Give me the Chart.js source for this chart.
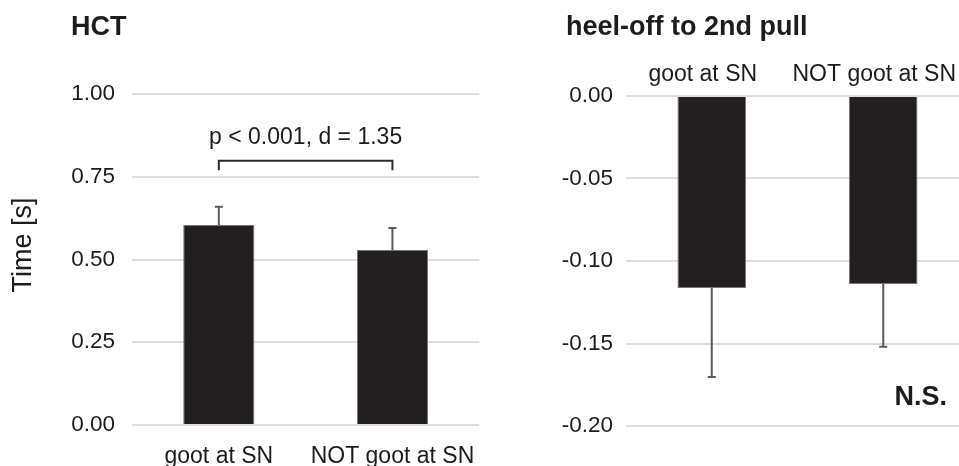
<!DOCTYPE html>
<html>
<head>
<meta charset="utf-8">
<script src="https://cdn.jsdelivr.net/npm/chart.js@4/dist/chart.umd.min.js"></script>
<style>
    html, body { margin: 0; padding: 0; background: #fff; overflow: hidden; }
    #wrap { position: relative; width: 959px; height: 466px; overflow: hidden; }
    #hct { position: absolute; left: 0; top: 0; }
    #heel { position: absolute; left: 485px; top: 0; }
</style>
</head>
<body>
<div id="wrap">
    <canvas id="hct" width="485" height="466"></canvas>
    <canvas id="heel" width="484" height="466"></canvas>
</div>
<script>
// values
const groups = ["goot at SN", "NOT goot at SN"];
const hctMean = [0.604, 0.529];
const hctSd = [0.055, 0.066];
const hctTicks = [0, 0.25, 0.5, 0.75, 1];
const heelMean = [-0.1164, -0.1139];
const heelSd = [0.0539, 0.0381];
const heelTicks = [-0.2, -0.15, -0.1, -0.05, 0];
const hctNote = "p < 0.001, d = 1.35";
const heelNote = "N.S.";

const fontFamily = "'Liberation Sans', Arial, Helvetica, sans-serif";
const ink = "#1c1c1c";
const barFill = "#231f20";
const whiskerColor = "#5b5b5b";
const gridColor = "#dedede";

Chart.defaults.font.family = fontFamily;
Chart.defaults.color = ink;

// whisker from the end of each bar, away from zero, with a cap
const errorBarPlugin = {
    id: "errorBars",
    afterDatasetsDraw(chart, args, opts) {
        const ctx = chart.ctx;
        const yScale = chart.scales.y;
        const values = chart.data.datasets[0].data;
        ctx.save();
        ctx.strokeStyle = opts.color;
        ctx.lineWidth = opts.width;
        chart.getDatasetMeta(0).data.forEach((bar, i) => {
            const v = values[i];
            const tip = yScale.getPixelForValue(v + Math.sign(v) * opts.sd[i]);
            ctx.beginPath();
            ctx.moveTo(bar.x, bar.y);
            ctx.lineTo(bar.x, tip);
            ctx.moveTo(bar.x - opts.cap, tip);
            ctx.lineTo(bar.x + opts.cap, tip);
            ctx.stroke();
        });
        ctx.restore();
    }
};

// significance bracket between the two groups
const bracketPlugin = {
    id: "bracket",
    afterDatasetsDraw(chart, args, opts) {
        if (!opts.text) return;
        const { ctx, scales: { x, y } } = chart;
        const x1 = x.getPixelForValue(0);
        const x2 = x.getPixelForValue(1);
        const yTop = y.getPixelForValue(opts.at);
        const yLeg = y.getPixelForValue(opts.at - opts.drop);
        ctx.save();
        ctx.strokeStyle = "#2b2b2b";
        ctx.lineWidth = 2;
        ctx.beginPath();
        ctx.moveTo(x1, yLeg);
        ctx.lineTo(x1, yTop);
        ctx.lineTo(x2, yTop);
        ctx.lineTo(x2, yLeg);
        ctx.stroke();
        ctx.font = "23px " + fontFamily;
        ctx.fillStyle = ink;
        ctx.textAlign = "center";
        ctx.textBaseline = "middle";
        ctx.fillText(opts.text, (x1 + x2) / 2, y.getPixelForValue(opts.textAt));
        ctx.restore();
    }
};

// panel titles, axis title and notes
const panelText = {
    id: "panelText",
    afterDraw(chart, args, opts) {
        const ctx = chart.ctx;
        (opts.items || []).forEach(t => {
            const yPos = t.yValue !== undefined ? chart.scales.y.getPixelForValue(t.yValue) : t.y;
            const xPos = t.fromRight !== undefined ? chart.chartArea.right - t.fromRight : t.x;
            ctx.save();
            ctx.font = t.font;
            ctx.fillStyle = ink;
            ctx.textAlign = t.align || "left";
            ctx.textBaseline = "middle";
            ctx.translate(xPos, yPos);
            if (t.rotate) ctx.rotate(t.rotate);
            ctx.fillText(t.text, 0, 0);
            ctx.restore();
        });
    }
};

function valueAxis(min, max, tickList, width, pad) {
    return {
        min: min,
        max: max,
        afterBuildTicks: s => { s.ticks = tickList.map(v => ({ value: v })); },
        afterFit: s => { s.width = width; },
        ticks: {
            callback: v => Number(v).toFixed(2),
            padding: pad,
            color: ink,
            font: { size: 22.5 }
        },
        grid: { color: gridColor, lineWidth: 2, drawTicks: false },
        border: { display: false }
    };
}

new Chart(document.getElementById("hct"), {
    type: "bar",
    data: {
        labels: groups,
        datasets: [{
            data: hctMean,
            backgroundColor: barFill,
            borderColor: "#777",
            borderWidth: 1,
            barPercentage: 0.41,
            categoryPercentage: 1
        }]
    },
    options: {
        responsive: false,
        animation: false,
        layout: { padding: { top: 94, right: 3, bottom: 0, left: 0 } },
        plugins: {
            legend: { display: false },
            tooltip: { enabled: false },
            errorBars: { sd: hctSd, color: whiskerColor, width: 2, cap: 4 },
            bracket: { text: hctNote, at: 0.798, drop: 0.028, textAt: 0.868 },
            panelText: {
                items: [
                    { text: "HCT", font: "bold 27px " + fontFamily, x: 71, y: 28 },
                    { text: "Time [s]", font: "27px " + fontFamily, x: 24, y: 245, align: "center", rotate: -Math.PI / 2 }
                ]
            }
        },
        scales: {
            x: {
                grid: { display: false },
                border: { display: false },
                afterFit: s => { s.height = 41; },
                ticks: { color: ink, font: { size: 23 }, padding: 10, maxRotation: 0 }
            },
            y: valueAxis(0, 1, hctTicks, 132, 17)
        }
    },
    plugins: [errorBarPlugin, bracketPlugin, panelText]
});

new Chart(document.getElementById("heel"), {
    type: "bar",
    data: {
        labels: groups,
        datasets: [{
            data: heelMean,
            backgroundColor: barFill,
            borderColor: "#777",
            borderWidth: 1,
            barPercentage: 0.40,
            categoryPercentage: 1
        }]
    },
    options: {
        responsive: false,
        animation: false,
        layout: { padding: { top: 56, right: 0, bottom: 40, left: 0 } },
        plugins: {
            legend: { display: false },
            tooltip: { enabled: false },
            errorBars: { sd: heelSd, color: whiskerColor, width: 2, cap: 4 },
            panelText: {
                items: [
                    { text: "heel-off to 2nd pull", font: "bold 27px " + fontFamily, x: 81, y: 28 },
                    { text: heelNote, font: "bold 27px " + fontFamily, fromRight: 22, yValue: -0.183, align: "right" }
                ]
            }
        },
        scales: {
            x: {
                position: "top",
                grid: { display: false },
                border: { display: false },
                afterFit: s => { s.height = 40; },
                ticks: { color: ink, font: { size: 23 }, padding: 0, labelOffset: -9, maxRotation: 0 }
            },
            y: valueAxis(-0.2, 0, heelTicks, 141, 13)
        }
    },
    plugins: [errorBarPlugin, panelText]
});
</script>
</body>
</html>
